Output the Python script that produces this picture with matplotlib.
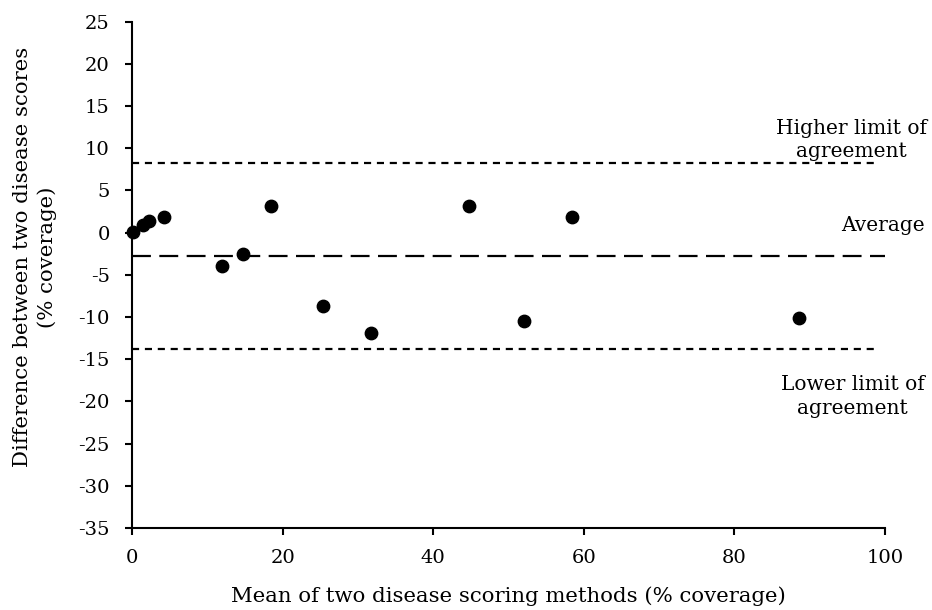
import numpy as np
import matplotlib.pyplot as plt

#Data
mean_scores = [0.2, 1.4, 2.2, 4.3, 12.0, 14.8, 18.4, 25.4, 31.7, 44.8, 52.1, 58.4, 88.6]
diff_scores = [0.1, 0.9, 1.4, 1.8, -3.9, -2.5, 3.2, -8.7, -11.9, 3.2, -10.5, 1.8, -10.1]
average_diff = -2.77
upper_limit = 8.28
lower_limit = -13.75

plt.rcParams['font.family'] = ['DejaVu Serif']
plt.rcParams['axes.unicode_minus'] = False

fig = plt.figure(figsize = (9.32, 6.10), dpi = 100)
ax = fig.add_axes([0.1416, 0.1344, 0.808, 0.83])

#Limits of agreement and average
ax.plot([0, 99], [upper_limit, upper_limit], color = "black", lw = 1.6, dashes = (3.2, 2.6))
ax.plot([0, 99], [lower_limit, lower_limit], color = "black", lw = 1.6, dashes = (3.2, 2.6))
ax.plot([0, 100], [average_diff, average_diff], color = "black", lw = 1.6, dashes = (8.5, 3.8))

ax.scatter(mean_scores, diff_scores, s = 80, color = "black", zorder = 3, clip_on = False)

ax.set_xlim(0, 100)
ax.set_ylim(-35, 25)
ax.set_xticks(np.arange(0, 101, 20))
ax.set_yticks(np.arange(-35, 26, 5))
ax.spines["top"].set_visible(False)
ax.spines["right"].set_visible(False)
ax.spines["left"].set_linewidth(1.5)
ax.spines["bottom"].set_linewidth(1.5)
ax.tick_params(axis = "both", labelsize = 14, width = 1.5, length = 5)
ax.tick_params(axis = "y", pad = 11)
ax.tick_params(axis = "x", pad = 10)

ax.set_xlabel("Mean of two disease scoring methods (% coverage)", fontsize = 15.3, labelpad = 14)
ax.set_ylabel("Difference between two disease scores\n(% coverage)", fontsize = 15.3, linespacing = 1.35)
ax.yaxis.set_label_coords(-0.1, 0.535)

#Annotations
ax.text(95.5, 11.0, "Higher limit of\nagreement", fontsize = 14.5, ha = "center", va = "center", linespacing = 1.3, clip_on = False)
ax.text(105.3, 0.8, "Average", fontsize = 14.5, ha = "right", va = "center", clip_on = False)
ax.text(95.7, -19.4, "Lower limit of\nagreement", fontsize = 14.5, ha = "center", va = "center", linespacing = 1.3, clip_on = False)

plt.savefig("out.png", dpi = 100)
